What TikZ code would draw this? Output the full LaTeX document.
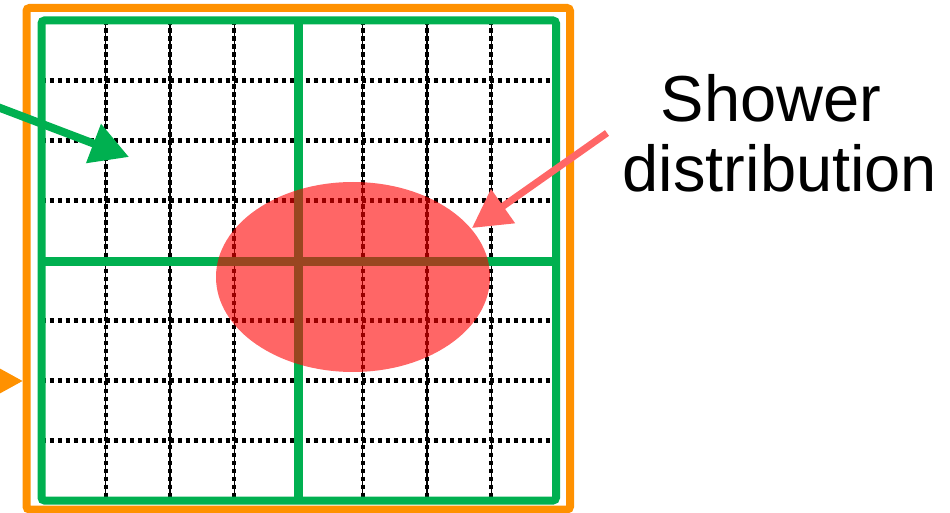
\documentclass[tikz,border=0pt]{standalone}
\usepackage{fontspec}
\setmainfont{Liberation Sans}
\usetikzlibrary{arrows.meta,shapes.geometric}
\definecolor{gframe}{RGB}{0,176,80}
\definecolor{oframe}{RGB}{255,145,0}
\definecolor{shower}{RGB}{255,0,0}
\definecolor{sarrow}{RGB}{255,102,102}
\tikzset{
  gridh/.style={black,line width=4.2pt,dash pattern=on 4.2pt off 3.8pt},
  gridv/.style={black,line width=4.2pt,dash pattern=on 4.2pt off 3.8pt},
  gridvl/.style={black,line width=1.2pt},
  frame/.style={line width=8pt,rounded corners=3pt},
  midline/.style={line width=9.5pt,gframe},
  bigarrow/.style={line width=8pt,-{Triangle[length=38pt,width=40pt]}},
  lbl/.style={font=\fontsize{65}{70}\selectfont,inner sep=0pt,anchor=base},
}
\begin{document}
\begin{tikzpicture}[x=1pt,y=-1pt]
\useasboundingbox (0,0) rectangle (950,513);
% dotted grid
\foreach \i in {1,2,3,5,6,7} {
  \draw[gridvl] ({41.5+64.25*\i},20.5) -- ({41.5+64.25*\i},500.5);
  \draw[gridv] ({41.5+64.25*\i},20.5) -- ({41.5+64.25*\i},500.5);
  \draw[gridh] (41.5,{20.5+60*\i}) -- (555.5,{20.5+60*\i});
}
% outer orange frame
\draw[frame,oframe] (26.5,8) rectangle (570,509.5);
% green frame
\draw[frame,gframe] (41.5,20.5) rectangle (556,500.5);
\draw[midline] (298.5,20.5) -- (298.5,500.5);
\draw[midline] (41.5,261.5) -- (556,261.5);
% shower ellipse
\node[ellipse,fill=shower,fill opacity=0.6,minimum width=274pt,minimum height=190pt,inner sep=0pt] (sh) at (353,277) {};
% label
\node[lbl] (lbla) at (771,122) {Shower};
\node[lbl] (lblb) at (780,192) {distribution};
% arrows
\coordinate (gs) at (-5,106);
\coordinate (ge) at (129,157);
\draw[bigarrow,gframe] (gs) -- (ge);
\coordinate (os) at (-20,381);
\coordinate (oe) at (23,381);
\draw[oframe,line width=8pt,-{Triangle[length=24pt,width=24pt]}] (os) -- (oe);
\coordinate (rs) at (607,133);
\coordinate (re) at (472,228);
\draw[sarrow,line width=7pt,-{Triangle[length=38pt,width=40pt]}] (rs) -- (re);
\end{tikzpicture}
\end{document}
